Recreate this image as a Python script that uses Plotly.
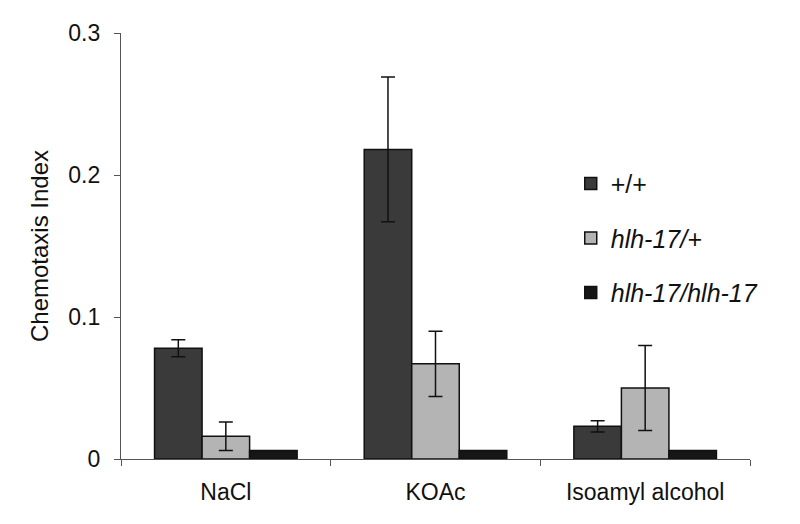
import plotly.graph_objects as go

categories = ["NaCl", "KOAc", "Isoamyl alcohol"]
series_names = ["+/+", "<i>hlh-17/+</i>", "<i>hlh-17/hlh-17</i>"]
wt_vals = [0.078, 0.218, 0.023]
wt_err = [0.006, 0.051, 0.004]
het_vals = [0.016, 0.067, 0.050]
het_err = [0.010, 0.023, 0.030]
hom_vals = [0.006, 0.006, 0.006]
y_ticks = [0, 0.1, 0.2, 0.3]
y_tick_labels = ["0", "0.1", "0.2", "0.3"]

colors = ["#3a3a3a", "#b4b4b4", "#161616"]

fig = go.Figure()
fig.add_trace(go.Bar(
    x=categories, y=wt_vals, name=series_names[0], legendgroup="a",
    marker=dict(color=colors[0], line=dict(color="#111", width=1.5)),
    error_y=dict(type="data", array=wt_err, color="#111", thickness=1.5, width=7),
))
fig.add_trace(go.Bar(
    x=categories, y=het_vals, name=series_names[1], legendgroup="b",
    marker=dict(color=colors[1], line=dict(color="#111", width=1.5)),
    error_y=dict(type="data", array=het_err, color="#111", thickness=1.5, width=7),
))
fig.add_trace(go.Bar(
    x=categories, y=hom_vals, name=series_names[2], legendgroup="c",
    marker=dict(color=colors[2], line=dict(color="#111", width=1.5)),
))

fig.update_layout(
    width=800, height=524,
    paper_bgcolor="white", plot_bgcolor="white",
    margin=dict(l=113, r=58, t=23, b=73),
    barmode="group", bargap=0.32, bargroupgap=0,
    font=dict(family="Liberation Sans, Arial, sans-serif", color="#111"),
    legend=dict(x=0.715, y=0.70, xanchor="left", yanchor="top",
                font=dict(size=25), tracegroupgap=19,
                bgcolor="rgba(0,0,0,0)", itemwidth=30),
    showlegend=True,
)
fig.update_xaxes(
    showline=True, linecolor="#555", linewidth=1.2,
    ticks="outside", tickson="boundaries", ticklen=6, tickcolor="#555",
    tickfont=dict(size=23), showgrid=False, ticklabelstandoff=12,
)
fig.update_yaxes(
    range=[0, 0.3], tickvals=y_ticks, ticktext=y_tick_labels,
    showline=True, linecolor="#555", linewidth=1.2,
    ticks="outside", ticklen=6, tickcolor="#555",
    tickfont=dict(size=23), showgrid=False, zeroline=False, ticklabelstandoff=9,
    title=dict(text="Chemotaxis Index", font=dict(size=24), standoff=12),
)

fig.write_html("out.html")
